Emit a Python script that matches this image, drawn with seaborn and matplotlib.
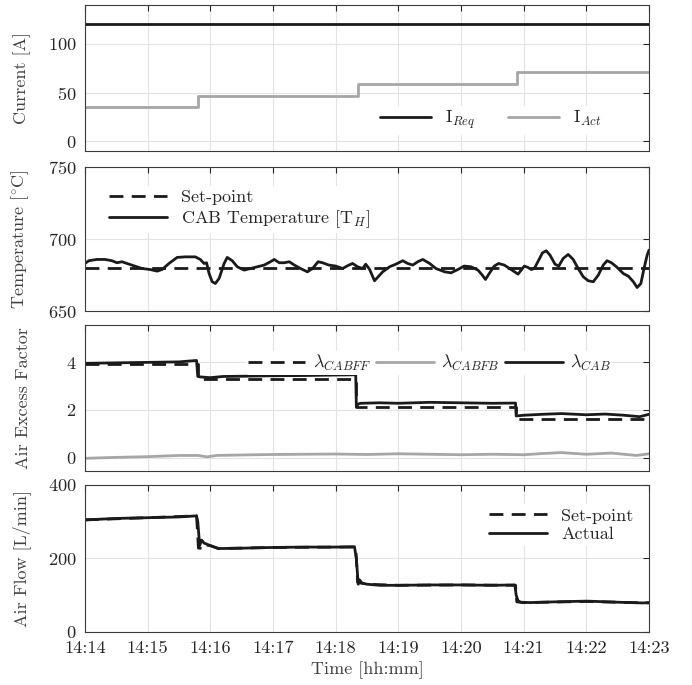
import numpy as np
import pandas as pd
import matplotlib
matplotlib.use("Agg")
import matplotlib.pyplot as plt
import seaborn as sns

# time axis: minutes after 14:14
tick_minutes = [0, 1, 2, 3, 4, 5, 6, 7, 8, 9]
tick_labels = ["14:14", "14:15", "14:16", "14:17", "14:18", "14:19", "14:20", "14:21", "14:22", "14:23"]

# current panel
cur_t = [0, 1.80, 4.35, 6.89, 9.0]
i_req = [120, 120, 120, 120, 120]
i_act = [35, 47, 59, 71, 71]

# temperature panel
temp_sp = 680
temp_t = [0, 0.06, 0.19, 0.32, 0.43, 0.51, 0.59, 0.67, 0.78, 0.91, 1.04, 1.15, 1.23, 1.34, 1.47,
          1.60, 1.76, 1.84, 1.90, 1.94, 1.98, 2.03, 2.08, 2.14, 2.22, 2.27, 2.35, 2.43, 2.54, 2.64,
          2.75, 2.86, 2.96, 3.02, 3.10, 3.18, 3.26, 3.34, 3.44, 3.55, 3.63, 3.72, 3.79, 3.89, 4.00,
          4.11, 4.21, 4.27, 4.35, 4.43, 4.48, 4.54, 4.62, 4.75, 4.86, 4.96, 5.07, 5.15, 5.23, 5.31,
          5.39, 5.50, 5.60, 5.74, 5.84, 5.95, 6.05, 6.16, 6.27, 6.34, 6.39, 6.45, 6.53, 6.60, 6.69,
          6.80, 6.91, 6.96, 7.01, 7.07, 7.12, 7.17, 7.23, 7.30, 7.36, 7.42, 7.50, 7.56, 7.63, 7.71,
          7.79, 7.87, 7.95, 8.03, 8.11, 8.19, 8.27, 8.33, 8.40, 8.48, 8.59, 8.67, 8.75, 8.81, 8.87,
          8.92, 8.97, 9.0]
temp_cab = [683, 684.9, 685.8, 685.8, 684.9, 683.5, 684.2, 683, 681.4, 679.5, 678.8, 677.7, 678.8, 683, 687.2,
            687.6, 687.6, 685.8, 683, 683.5, 676, 670.3, 669.1, 672.6, 683, 687.2, 684.9, 680.7, 678.4, 679.5,
            680.7, 681.9, 684.2, 685.8, 683.5, 683.5, 684.2, 681.9, 679.5, 677.2, 679.5, 684.2, 683.5, 681.9, 681.2,
            679.5, 681.9, 683, 680.7, 679.5, 682.5, 679, 671, 677.2, 680.7, 682.5, 684.9, 683, 681.9, 684.2,
            685.8, 683, 679.5, 677.2, 676.5, 678.8, 681.2, 680.7, 678.4, 674.9, 671.9, 676, 681.2, 683, 681.9,
            678.8, 675.6, 678.4, 681.2, 680.2, 678.8, 679.5, 684.5, 690.4, 691.8, 688.8, 682.5, 681.2, 686.5, 689.3,
            685.8, 679.5, 673.8, 671, 670.3, 674.9, 681.9, 684.9, 683.5, 680.7, 676, 674.2, 670.3, 666.3, 669.1,
            679.5, 688.8, 692.3]

# air excess factor panel
lam_ff_t = [0, 1.80, 4.33, 6.88, 9.0]
lam_ff = [3.92, 3.28, 2.12, 1.62, 1.62]
lam_t = [0, 0.5, 1.0, 1.5, 1.78, 1.80, 1.85, 2.0, 2.2, 2.5, 3.0, 3.5, 4.0, 4.32, 4.33, 4.36, 4.4,
         4.7, 5.0, 5.5, 6.0, 6.5, 6.87, 6.88, 7.0, 7.3, 7.6, 8.0, 8.3, 8.6, 8.85, 9.0]
lam_cab = [3.95, 3.97, 3.99, 4.01, 4.07, 3.40, 3.38, 3.35, 3.40, 3.41, 3.43, 3.44, 3.46, 3.47, 2.15, 2.25, 2.28,
           2.30, 2.28, 2.32, 2.30, 2.28, 2.29, 1.75, 1.78, 1.82, 1.85, 1.80, 1.83, 1.78, 1.72, 1.82]
lam_fb_t = [0, 0.5, 1.0, 1.5, 1.8, 1.95, 2.1, 2.5, 3.0, 3.5, 4.0, 4.5, 5.0, 5.5, 6.0, 6.5, 7.0,
            7.3, 7.6, 8.0, 8.4, 8.8, 9.0]
lam_fb = [-0.02, 0.02, 0.05, 0.10, 0.10, 0.04, 0.10, 0.12, 0.14, 0.15, 0.16, 0.14, 0.17, 0.15, 0.13, 0.15, 0.13,
          0.18, 0.22, 0.15, 0.20, 0.10, 0.17]

# air flow panel
af_t = [0, 0.5, 1.0, 1.5, 1.78, 1.80, 1.83, 1.86, 1.9, 2.0, 2.13, 2.5, 3.0, 3.5, 4.0, 4.30, 4.33, 4.36,
        4.38, 4.42, 4.5, 4.7, 5.0, 5.5, 6.0, 6.5, 6.86, 6.88, 6.91, 6.95, 7.1, 7.5, 8.0, 8.5, 8.9, 9.0]
af_act = [305, 309, 311, 313, 316, 300, 235, 250, 242, 235, 227, 228, 230, 231, 231, 232, 200, 130,
          142, 133, 130, 127, 127, 128, 128, 127, 128, 100, 85, 81, 80, 82, 84, 81, 79, 80]
af_sp_t = [0, 1.0, 1.78, 1.81, 1.87, 1.88, 2.0, 2.13, 3.0, 4.0, 4.32, 4.35, 4.5, 5.0, 6.0, 6.87, 6.89,
           7.0, 8.0, 9.0]
af_sp = [305, 311, 316, 228, 228, 238, 235, 227, 230, 231, 231, 135, 130, 127, 128, 127, 82, 80, 83, 79]

BLACK = "#1a1a1a"
GRAY = "#a6a6a6"

sns.set_theme(style="whitegrid")
plt.rcParams.update({
    "font.family": ["cmr10", "DejaVu Serif"],
    "mathtext.fontset": "cm",
    "axes.formatter.use_mathtext": True,
    "axes.edgecolor": "#3a3a3a",
    "axes.linewidth": 0.8,
    "grid.color": "#e3e3e3",
    "grid.linewidth": 0.8,
    "xtick.direction": "in",
    "ytick.direction": "in",
    "xtick.color": "#262626",
    "ytick.color": "#262626",
    "xtick.labelsize": 13.2,
    "ytick.labelsize": 13.2,
    "axes.labelsize": 13,
    "axes.labelcolor": "#404040",
    "legend.fontsize": 13,
})

fig = plt.figure(figsize=(6.92, 6.85), dpi=100)
left, width = 0.1228, 0.8151
ax1 = fig.add_axes([left, 0.7796, width, 0.2131])
ax2 = fig.add_axes([left, 0.5460, width, 0.2102])
ax3 = fig.add_axes([left, 0.3124, width, 0.2131])
ax4 = fig.add_axes([left, 0.0774, width, 0.2146])

lw = 2.0

# current
df_cur = pd.DataFrame({"t": cur_t, "req": i_req, "act": i_act})
sns.lineplot(data=df_cur, x="t", y="req", ax=ax1, color=BLACK, lw=lw, drawstyle="steps-post",
             estimator=None, sort=False, label=r"I$_{Req}$")
sns.lineplot(data=df_cur, x="t", y="act", ax=ax1, color=GRAY, lw=lw, drawstyle="steps-post",
             estimator=None, sort=False, label=r"I$_{Act}$")
ax1.set_ylim(-10, 140)
ax1.set_yticks([0, 50, 100])
ax1.set_ylabel("Current [A]")
ax1.legend(loc="center", bbox_to_anchor=(0.72, 0.21), ncol=2, frameon=True, facecolor="white",
           edgecolor="none", framealpha=1, handlelength=2.8, columnspacing=1.8, borderpad=0.2)

# temperature
df_temp = pd.DataFrame({"t": temp_t, "cab": temp_cab})
df_temp["sp"] = temp_sp
sns.lineplot(data=df_temp, x="t", y="sp", ax=ax2, color=BLACK, lw=lw, ls=(0, (5, 3)),
             estimator=None, sort=False, label="Set-point")
sns.lineplot(data=df_temp, x="t", y="cab", ax=ax2, color=BLACK, lw=lw,
             estimator=None, sort=False, label=r"CAB Temperature [T$_H$]")
ax2.set_ylim(650, 750)
ax2.set_yticks([650, 700, 750])
ax2.set_ylabel(r"Temperature [$^{\circ}$C]")
ax2.legend(loc="upper left", bbox_to_anchor=(0.02, 0.93), frameon=True, facecolor="white",
           edgecolor="none", framealpha=1, handlelength=3.2, borderpad=0.2, labelspacing=0.15)

# air excess factor
df_ff = pd.DataFrame({"t": lam_ff_t, "v": lam_ff})
df_fb = pd.DataFrame({"t": lam_fb_t, "v": lam_fb})
df_cab = pd.DataFrame({"t": lam_t, "v": lam_cab})
sns.lineplot(data=df_ff, x="t", y="v", ax=ax3, color=BLACK, lw=lw, ls=(0, (5, 3)), drawstyle="steps-post",
             estimator=None, sort=False, label=r"$\lambda_{CABFF}$")
sns.lineplot(data=df_fb, x="t", y="v", ax=ax3, color=GRAY, lw=lw,
             estimator=None, sort=False, label=r"$\lambda_{CABFB}$")
sns.lineplot(data=df_cab, x="t", y="v", ax=ax3, color=BLACK, lw=lw,
             estimator=None, sort=False, label=r"$\lambda_{CAB}$")
ax3.set_ylim(-0.55, 5.55)
ax3.set_yticks([0, 2, 4])
ax3.set_ylabel("Air Excess Factor")
ax3.legend(loc="center", bbox_to_anchor=(0.61, 0.74), ncol=3, frameon=True, facecolor="white",
           edgecolor="none", framealpha=1, handlelength=3.2, columnspacing=0.3, handletextpad=0.4,
           borderpad=0.1)

# air flow
df_sp = pd.DataFrame({"t": af_sp_t, "v": af_sp})
df_act = pd.DataFrame({"t": af_t, "v": af_act})
sns.lineplot(data=df_sp, x="t", y="v", ax=ax4, color=BLACK, lw=lw, ls=(0, (5, 3)),
             estimator=None, sort=False, label="Set-point")
sns.lineplot(data=df_act, x="t", y="v", ax=ax4, color=BLACK, lw=lw,
             estimator=None, sort=False, label="Actual")
ax4.set_ylim(0, 400)
ax4.set_yticks([0, 200, 400])
ax4.set_ylabel("Air Flow [L/min]")
ax4.set_xlabel("Time [hh:mm]")
ax4.legend(loc="upper right", bbox_to_anchor=(0.995, 0.93), frameon=True, facecolor="white",
           edgecolor="none", framealpha=1, handlelength=3.2, borderpad=0.2, labelspacing=0.15)

for ax in [ax1, ax2, ax3, ax4]:
    ax.set_xlim(0, 9)
    ax.set_xticks(tick_minutes)
    ax.grid(True)
    ax.tick_params(top=True, right=True, length=4, width=0.8, pad=6)
    for s in ax.spines.values():
        s.set_visible(True)
    ax.yaxis.set_label_coords(-0.095, 0.5)
    if ax is not ax4:
        ax.set_xticklabels([])
        ax.set_xlabel("")
ax4.set_xticklabels(tick_labels)

fig.savefig("out.png", dpi=100)
